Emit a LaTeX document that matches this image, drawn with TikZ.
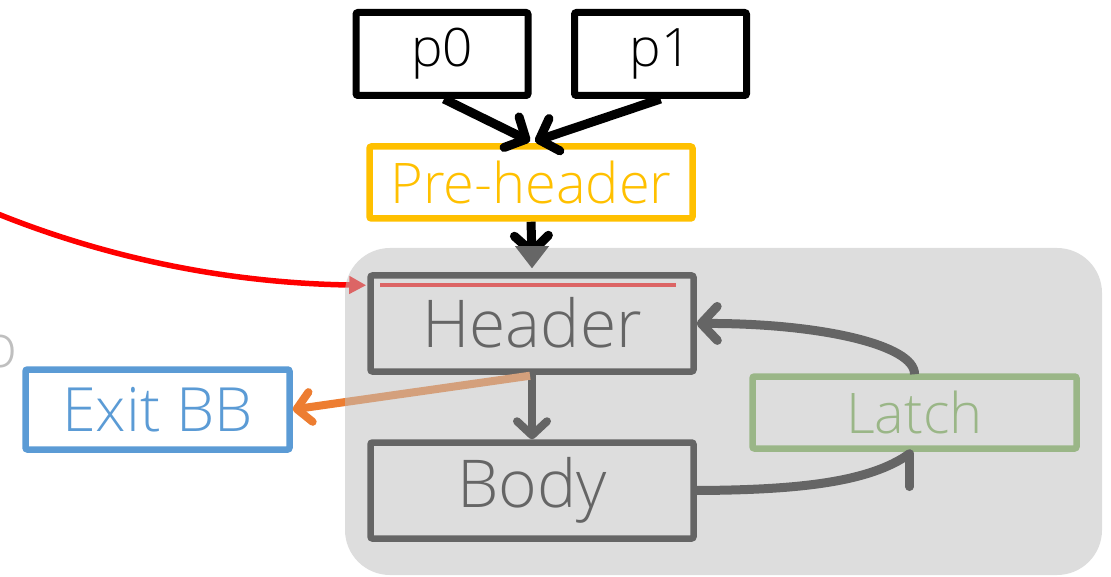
\documentclass[tikz,border=0pt]{standalone}
\usepackage{fontspec}
\setmainfont{Open Sans Light}
\usetikzlibrary{arrows.meta,calc}
\definecolor{gold}{HTML}{FFC000}
\definecolor{xblue}{HTML}{5B9BD5}
\definecolor{xgreen}{HTML}{70AD47}
\definecolor{xorange}{HTML}{ED7D31}
\definecolor{xred}{HTML}{FF0000}
\definecolor{veil}{HTML}{BFBFBF}
\definecolor{dgrey}{HTML}{666666}
\begin{document}
\begin{tikzpicture}[x=1pt,y=-1pt,
  box/.style={draw, line width=6.5pt, rounded corners=2pt, inner sep=0pt, align=center},
  big/.style={font=\fontsize{66}{70}\selectfont},
  mid/.style={font=\fontsize{56}{60}\selectfont},
  small/.style={font=\fontsize{53}{55}\selectfont},
  conn/.style={line width=9pt, -{Straight Barb[length=16pt,width=34pt,round]}},
  thinconn/.style={line width=8pt, -{Straight Barb[length=14pt,width=30pt,round]}}]
\useasboundingbox (0,0) rectangle (1111,577);

% nodes
\node[box, line width=7pt, small, minimum width=172pt, minimum height=83pt] (p0) at (442,54) {p0};
\node[box, line width=7pt, small, minimum width=172pt, minimum height=83pt] (p1) at (660.5,54) {p1};
\node[box, draw=gold, text=gold, mid, minimum width=323pt, minimum height=72pt] (pre) at (531,182.5) {Pre-header};
\node[box, big, minimum width=323pt, minimum height=96pt] (hdr) at (532,323.5) {\raisebox{3pt}{Header}};
\node[box, big, minimum width=323pt, minimum height=96pt] (body) at (532,490.5) {Body};
\node[box, draw=xgreen, text=xgreen, mid, minimum width=324pt, minimum height=72pt] (latch) at (914.5,412.5) {Latch};
\node[box, draw=xblue, text=xblue, font=\fontsize{61}{64}\selectfont, minimum width=264pt, minimum height=80pt] (exit) at (157.5,409.5) {Exit BB};
\node[text=veil, font=\fontsize{60}{64}\selectfont, inner sep=0pt, anchor=east] (cut) at (18,352) {o};
\coordinate (rs) at (-2,214);

% connectors
\draw[conn] ($(p0.south)+(2,0)$) -- ($(pre.north)+(-1,-2)$);
\draw[conn] (p1.south) -- ($(pre.north)+(4,-2)$);
\draw[conn] (pre.south) -- ($(hdr.north)+(0,-16)$);
\draw[thinconn] (hdr.south) -- (body.north);
\draw[xorange, line width=8pt, -{Straight Barb[length=14pt,width=30pt,round]}] ($(hdr.south)+(-2,1)$) -- (exit.east);
\draw[line width=9pt, line cap=round] (body.east) .. controls (800,490) and (870,482) .. ($(latch.south)+(-5,2)$);
\draw[line width=8.5pt, line cap=round] ($(latch.south)+(-5,2)$) -- ++(0,33);
\draw[conn] ($(latch.north)+(0,1)$) .. controls (915,345) and (820,323) .. (hdr.east);
\draw[xred, line width=5.5pt, -{Triangle[length=17pt,width=17pt]}] (rs) .. controls (100,255) and (220,283) .. ($(hdr.north west)+(-1,13)$);
\draw[xred, line width=3.5pt] ($(hdr.north west)+(13,13)$) -- ($(hdr.north east)+(-21,13)$);

% translucent loop region
\node[fill=veil, fill opacity=0.533, rounded corners=45pt, inner sep=0pt, minimum width=757pt, minimum height=327pt] (loop) at (723.5,411.5) {};
\fill[dgrey] ($(hdr.north)+(-17,-26)$) -- ($(hdr.north)+(17,-26)$) -- ($(hdr.north)+(0,-4)$) -- cycle;
\end{tikzpicture}
\end{document}
